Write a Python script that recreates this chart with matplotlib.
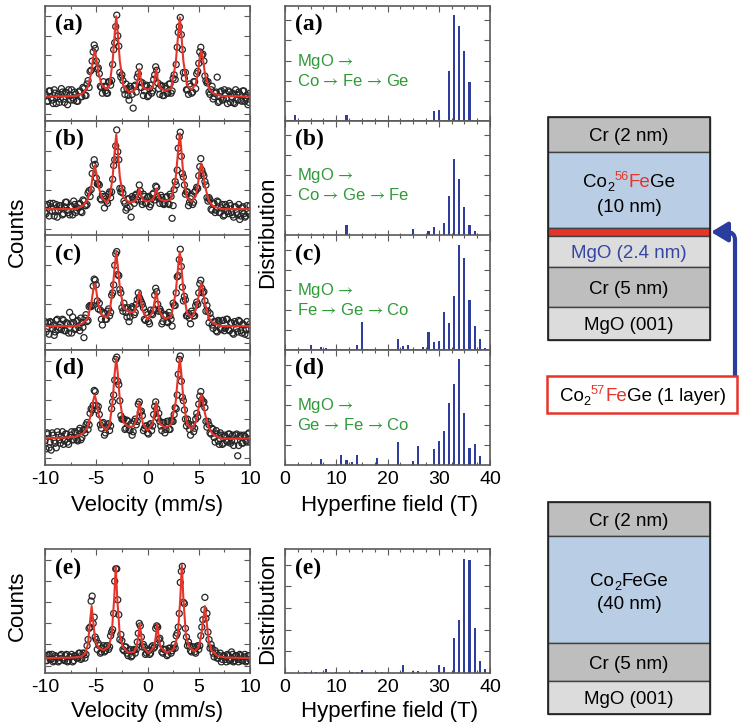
import matplotlib
matplotlib.use("Agg")
import matplotlib.pyplot as plt
from matplotlib.patches import Rectangle

plt.rcParams['font.family'] = ['Liberation Sans', 'DejaVu Sans']
plt.rcParams['axes.unicode_minus'] = False
plt.rcParams['mathtext.fontset'] = 'stix'

# ---------------- data ----------------
# two interleaved velocity channel sets
VELOCITY = [
    -10.0, -9.8, -9.6, -9.4, -9.2, -9.0, -8.8, -8.6, -8.4, -8.2,
    -8.0, -7.8, -7.6, -7.4, -7.2, -7.0, -6.8, -6.6, -6.4, -6.2,
    -6.0, -5.8, -5.6, -5.4, -5.2, -5.0, -4.8, -4.6, -4.4, -4.2,
    -4.0, -3.8, -3.6, -3.4, -3.2, -3.0, -2.8, -2.6, -2.4, -2.2,
    -2.0, -1.8, -1.6, -1.4, -1.2, -1.0, -0.8, -0.6, -0.4, -0.2,
    0.0, 0.2, 0.4, 0.6, 0.8, 1.0, 1.2, 1.4, 1.6, 1.8,
    2.0, 2.2, 2.4, 2.6, 2.8, 3.0, 3.2, 3.4, 3.6, 3.8,
    4.0, 4.2, 4.4, 4.6, 4.8, 5.0, 5.2, 5.4, 5.6, 5.8,
    6.0, 6.2, 6.4, 6.6, 6.8, 7.0, 7.2, 7.4, 7.6, 7.8,
    8.0, 8.2, 8.4, 8.6, 8.8, 9.0, 9.2, 9.4, 9.6, 9.8,
    10.0]
VELOCITY_2 = [
    -9.9, -9.7, -9.5, -9.3, -9.1, -8.9, -8.7, -8.5, -8.3, -8.1,
    -7.9, -7.7, -7.5, -7.3, -7.1, -6.9, -6.7, -6.5, -6.3, -6.1,
    -5.9, -5.7, -5.5, -5.3, -5.1, -4.9, -4.7, -4.5, -4.3, -4.1,
    -3.9, -3.7, -3.5, -3.3, -3.1, -2.9, -2.7, -2.5, -2.3, -2.1,
    -1.9, -1.7, -1.5, -1.3, -1.1, -0.9, -0.7, -0.5, -0.3, -0.1,
    0.1, 0.3, 0.5, 0.7, 0.9, 1.1, 1.3, 1.5, 1.7, 1.9,
    2.1, 2.3, 2.5, 2.7, 2.9, 3.1, 3.3, 3.5, 3.7, 3.9,
    4.1, 4.3, 4.5, 4.7, 4.9, 5.1, 5.3, 5.5, 5.7, 5.9,
    6.1, 6.3, 6.5, 6.7, 6.9, 7.1, 7.3, 7.5, 7.7, 7.9,
    8.1, 8.3, 8.5, 8.7, 8.9, 9.1, 9.3, 9.5, 9.7, 9.9]

COUNTS_A = [
    23, 17, 26, 20, 15, 24, 21, 16, 28, 19,
    25, 14, 22, 27, 18, 23, 17, 26, 21, 28,
    22, 35, 43, 52, 66, 52, 46, 30, 24, 30,
    24, 34, 31, 49, 68, 92, 65, 38, 35, 23,
    28, 18, 28, 11, 31, 38, 47, 29, 22, 30,
    21, 28, 24, 36, 47, 33, 23, 30, 22, 28,
    24, 32, 26, 40, 49, 77, 90, 62, 37, 27,
    23, 30, 25, 34, 41, 50, 64, 58, 39, 33,
    25, 27, 19, 24, 38, 17, 26, 19, 24, 15,
    25, 21, 16, 27, 18, 23, 17, 26, 20, 14, 24]
COUNTS2_A = [
    22, 17, 26, 18, 27, 15, 23, 19, 25, 16,
    24, 27, 18, 20, 25, 17, 25, 21, 29, 22,
    32, 29, 44, 60, 63, 45, 41, 29, 34, 26,
    24, 34, 35, 62, 82, 74, 42, 40, 27, 32,
    22, 30, 23, 30, 25, 41, 34, 33, 26, 31,
    22, 31, 26, 40, 44, 28, 31, 22, 30, 24,
    32, 24, 37, 36, 64, 82, 75, 42, 42, 27,
    32, 24, 34, 28, 43, 60, 57, 52, 35, 34,
    23, 30, 21, 25, 16, 25, 18, 27, 19, 26,
    16, 24, 15, 23, 25, 18, 26, 17, 22, 16]
COUNTS_B = [
    20, 27, 17, 25, 28, 21, 16, 26, 24, 19,
    29, 22, 18, 25, 30, 20, 24, 28, 20, 30,
    26, 37, 34, 54, 66, 50, 45, 32, 36, 24,
    30, 36, 33, 49, 66, 92, 66, 38, 37, 28,
    24, 32, 16, 32, 35, 31, 44, 30, 36, 28,
    33, 25, 32, 37, 43, 34, 28, 33, 27, 33,
    28, 36, 15, 40, 44, 76, 90, 54, 44, 38,
    26, 32, 27, 38, 42, 52, 67, 54, 47, 33,
    33, 23, 28, 20, 30, 20, 24, 17, 27, 21,
    28, 20, 16, 25, 18, 14, 24, 19, 17, 21, 26]
COUNTS2_B = [
    19, 26, 28, 21, 17, 27, 22, 26, 18, 25,
    29, 20, 25, 18, 27, 22, 27, 21, 31, 26,
    27, 39, 40, 61, 62, 45, 44, 31, 34, 34,
    28, 38, 38, 61, 78, 73, 41, 41, 30, 22,
    32, 25, 34, 28, 36, 34, 39, 27, 34, 28,
    34, 27, 36, 31, 42, 32, 35, 28, 28, 34,
    27, 34, 26, 47, 57, 86, 69, 51, 36, 38,
    29, 34, 29, 39, 41, 60, 57, 52, 44, 30,
    31, 22, 28, 22, 29, 20, 27, 18, 25, 19,
    26, 18, 25, 20, 27, 17, 25, 16, 26, 19]
COUNTS_C = [
    25, 19, 14, 24, 22, 16, 27, 20, 18, 26,
    17, 23, 33, 15, 24, 19, 26, 17, 24, 11,
    31, 26, 39, 39, 62, 57, 36, 35, 22, 32,
    27, 36, 33, 50, 74, 86, 65, 50, 34, 37,
    29, 25, 36, 37, 33, 44, 46, 42, 37, 26,
    31, 23, 32, 35, 54, 40, 36, 23, 30, 31,
    24, 30, 21, 39, 50, 65, 88, 55, 47, 30,
    32, 23, 32, 30, 42, 50, 61, 50, 43, 39,
    24, 28, 19, 25, 16, 25, 18, 26, 19, 27,
    17, 24, 14, 23, 16, 25, 15, 22, 18, 13, 23]
COUNTS2_C = [
    16, 24, 25, 19, 13, 26, 18, 23, 27, 17,
    24, 15, 23, 29, 18, 25, 20, 28, 20, 28,
    25, 38, 38, 56, 61, 43, 41, 27, 33, 27,
    34, 30, 48, 57, 84, 66, 53, 37, 41, 33,
    37, 29, 38, 31, 40, 50, 44, 40, 27, 33,
    25, 35, 31, 48, 51, 34, 34, 25, 31, 25,
    33, 27, 41, 39, 64, 79, 73, 43, 44, 30,
    28, 34, 30, 39, 40, 58, 54, 51, 34, 34,
    32, 22, 25, 17, 26, 19, 26, 17, 27, 18,
    24, 15, 25, 19, 26, 17, 23, 14, 25, 19]
COUNTS_D = [
    21, 28, 15, 13, 26, 19, 29, 22, 25, 18,
    27, 20, 24, 29, 22, 28, 21, 32, 24, 31,
    35, 31, 45, 48, 65, 52, 51, 35, 36, 26,
    33, 36, 34, 55, 74, 94, 70, 43, 40, 31,
    39, 31, 36, 29, 40, 38, 55, 47, 30, 34,
    28, 35, 30, 44, 55, 41, 38, 30, 37, 31,
    38, 31, 38, 44, 49, 79, 95, 59, 48, 34,
    36, 26, 34, 32, 45, 53, 64, 54, 50, 33,
    35, 27, 31, 20, 27, 18, 26, 19, 25, 20,
    27, 21, 17, 26, 8, 25, 19, 26, 21, 27, 20]
COUNTS2_D = [
    14, 27, 20, 28, 21, 15, 26, 19, 29, 21,
    27, 18, 26, 22, 29, 22, 30, 22, 30, 28,
    37, 35, 49, 52, 64, 48, 44, 32, 37, 28,
    35, 30, 49, 61, 92, 73, 56, 40, 40, 32,
    38, 30, 26, 38, 35, 53, 46, 43, 32, 34,
    27, 36, 34, 51, 49, 45, 34, 37, 28, 38,
    31, 39, 38, 50, 61, 92, 73, 56, 40, 40,
    31, 35, 29, 40, 42, 60, 57, 55, 38, 38,
    28, 32, 24, 30, 21, 28, 18, 26, 21, 27,
    19, 26, 21, 27, 17, 26, 19, 25, 20, 28]
COUNTS_E = [
    14, 10, 15, 11, 9, 14, 12, 10, 15, 11,
    14, 9, 13, 15, 10, 14, 12, 16, 12, 16,
    15, 27, 37, 62, 45, 27, 24, 16, 20, 17,
    22, 19, 30, 35, 74, 84, 47, 31, 19, 21,
    16, 18, 13, 18, 16, 25, 40, 29, 23, 15,
    18, 15, 21, 20, 36, 37, 28, 17, 19, 19,
    15, 20, 18, 23, 30, 37, 73, 86, 56, 29,
    25, 18, 21, 17, 21, 19, 30, 43, 61, 48,
    27, 23, 16, 18, 12, 14, 9, 14, 11, 15,
    10, 17, 9, 14, 11, 15, 10, 13, 9, 14, 11]
COUNTS2_E = [
    10, 14, 11, 15, 10, 13, 9, 14, 12, 10,
    15, 10, 13, 9, 14, 12, 16, 11, 16, 12,
    22, 36, 58, 40, 29, 19, 22, 17, 22, 18,
    22, 21, 33, 48, 84, 59, 27, 26, 18, 21,
    14, 19, 14, 19, 19, 32, 38, 21, 21, 16,
    18, 16, 22, 21, 38, 27, 24, 16, 19, 14,
    20, 16, 20, 20, 32, 48, 82, 57, 36, 22,
    22, 17, 21, 16, 22, 22, 37, 51, 44, 33,
    20, 20, 13, 16, 12, 16, 11, 14, 9, 14,
    10, 15, 10, 14, 9, 14, 10, 15, 10, 14]

# fitted curves (velocity knots shared by a-d)
FIT_V = [-10, -7.0, -6.3, -5.85, -5.5, -5.3, -5.15, -5.0, -4.8, -4.45,
         -4.0, -3.7, -3.4, -3.2, -3.05, -2.9, -2.7, -2.35, -1.8, -1.35,
         -1.1, -0.95, -0.8, -0.65, -0.45, 0.0, 0.5, 0.7, 0.85, 1.0,
         1.2, 1.7, 2.3, 2.75, 3.0, 3.15, 3.3, 3.5, 3.85, 4.3,
         4.7, 4.9, 5.1, 5.25, 5.4, 5.6, 6.0, 6.4, 7.2, 10]
FIT_A = [21, 21.5, 24, 29, 41, 55, 61, 55, 42, 31,
         27.5, 31, 52, 76, 91, 76, 52, 30.5, 25, 25.5,
         29, 36, 45, 36, 29, 27, 29, 36, 45, 36,
         29, 26, 28, 50, 76, 90, 76, 52, 31, 27,
         32, 41, 55, 61, 55, 41, 28, 24, 21.5, 21]
FIT_B = [23, 23, 26, 31, 42, 55, 61, 55, 43, 33,
         29, 32.5, 51, 74, 88, 74, 51, 33, 29, 29.5,
         31.5, 35.5, 41, 35.5, 31, 29.5, 31, 35, 41, 36,
         31.5, 30, 31.5, 50, 75, 89, 75, 52, 33, 29.5,
         34, 43, 57, 63, 57, 43, 30, 25.5, 23, 23]
FIT_C = [21, 21, 23.5, 28, 40, 52, 58, 52, 40, 30.5,
         28.5, 33, 53, 73, 85, 73, 55, 37, 33.5, 33,
         38, 44, 51, 44, 34, 27, 33, 43, 51, 43,
         33, 27.5, 29, 50, 74, 86, 74, 52, 32.5, 28.5,
         35, 43, 53, 58, 53, 41, 28, 23.5, 21, 21]
FIT_D = [23, 24.5, 27.5, 33, 45, 56, 61, 56, 45, 34,
         30.5, 35, 56, 80, 93, 80, 57, 37, 33, 34,
         39, 46, 54, 46, 36, 30, 36, 46, 55, 46,
         36, 32.5, 35, 55, 80, 93, 80, 57, 36, 31,
         37, 45, 56, 61, 56, 45, 32, 26.5, 23, 23]
FIT_V_E = [-10, -7.0, -6.4, -6.05, -5.8, -5.6, -5.45, -5.3, -5.1, -4.8,
           -4.3, -3.8, -3.5, -3.25, -3.1, -2.95, -2.7, -2.4, -1.9, -1.3,
           -1.05, -0.9, -0.75, -0.6, -0.45, 0.1, 0.65, 0.8, 0.95, 1.1,
           1.25, 1.8, 2.5, 2.95, 3.2, 3.35, 3.5, 3.75, 4.1, 4.6,
           5.0, 5.25, 5.45, 5.6, 5.75, 5.95, 6.25, 6.8, 7.5, 10]
FIT_E = [12, 12.5, 13.5, 16, 24, 42, 54, 42, 26, 20.5,
         18.5, 21, 30, 60, 86, 60, 30, 21, 16.5, 17,
         22, 29, 39, 29, 21, 16, 21, 29, 39, 29,
         21, 16.5, 18.5, 30, 60, 87, 60, 30, 20.5, 17.5,
         21, 31, 43, 54, 43, 27, 18, 14, 12.5, 12]

# hyperfine field distributions
FIELD_A = [2, 12, 29, 30, 32, 33, 34, 35, 36]
DIST_A = [0.05, 0.05, 0.085, 0.09, 0.43, 0.92, 0.83, 0.61, 0.34]
FIELD_B = [12, 25, 28, 29, 31, 32, 33, 34, 35, 36, 37]
DIST_B = [0.088, 0.053, 0.035, 0.074, 0.11, 0.34, 0.67, 0.49, 0.25, 0.094, 0.04]
FIELD_C = [5, 7, 8, 14, 15, 22, 23, 24, 27, 28, 29, 30, 31, 32, 33, 34, 35, 36, 37, 38, 39]
DIST_C = [0.05, 0.03, 0.02, 0.05, 0.25, 0.10, 0.04, 0.045, 0.03, 0.16, 0.07,
          0.08, 0.33, 0.24, 0.47, 0.92, 0.80, 0.44, 0.21, 0.10, 0.02]
FIELD_D = [7, 11, 12, 13, 14, 18, 22, 25, 26, 29, 30, 31, 32, 33, 34, 35, 36, 37, 38]
DIST_D = [0.05, 0.084, 0.046, 0.03, 0.084, 0.058, 0.20, 0.035, 0.165, 0.14,
          0.21, 0.30, 0.54, 0.71, 0.92, 0.45, 0.145, 0.18, 0.078]
FIELD_E = [4, 5, 6, 8, 10, 13, 14, 15, 18, 19, 23, 25, 26, 30, 31, 33, 34, 35, 36, 37, 38, 39]
DIST_E = [0.008, 0.01, 0.008, 0.03, 0.01, 0.008, 0.01, 0.025, 0.008, 0.008, 0.067,
          0.015, 0.015, 0.062, 0.046, 0.28, 0.43, 0.92, 0.91, 0.36, 0.10, 0.03]

PANEL_LABELS = ['(a)', '(b)', '(c)', '(d)', '(e)']
ARROW = r'$\,\rightarrow\,$'
SEQUENCES = ['Co' + ARROW + 'Fe' + ARROW + 'Ge',
             'Co' + ARROW + 'Ge' + ARROW + 'Fe',
             'Fe' + ARROW + 'Ge' + ARROW + 'Co',
             'Ge' + ARROW + 'Fe' + ARROW + 'Co']

# ---------------- styles ----------------
W, H = 739, 727
FRAME = '#5a5a5a'
RED = '#e5352a'
BAR = '#2f3d9c'
GREEN = '#2f9a38'
BLUE_TXT = '#3545a5'
CR_GRAY = '#bebebe'
MGO_GRAY = '#dcdcdc'
FILM_BLUE = '#b9cde4'

fig = plt.figure(figsize=(W / 100, H / 100), dpi=100)


def frame(left, top, width, height):
    return [left / W, 1 - (top + height) / H, width / W, height / H]


def style(ax, xlim, major, minor, yticks, labels):
    ax.set_xlim(xlim)
    ax.set_xticks(major)
    ax.set_xticks(minor, minor=True)
    ax.set_yticks(yticks)
    ax.set_yticklabels([])
    ax.tick_params(which='both', direction='in', top=True, right=True,
                   color=FRAME, width=0.8, labelbottom=labels,
                   labelsize=14, pad=4)
    ax.tick_params(which='major', length=4)
    ax.tick_params(which='minor', length=2.5)
    for sp in ax.spines.values():
        sp.set_color(FRAME)
        sp.set_linewidth(1.2)


def spectrum(top, height, counts, counts2, fit_v, fit_y, label, labels):
    ax = fig.add_axes(frame(45, top, 205, height))
    for vel, cnt in ((VELOCITY, counts), (VELOCITY_2, counts2)):
        ax.scatter(vel, cnt, s=19, facecolors='none', edgecolors='#262626',
                   linewidths=0.9, zorder=2)
    ax.plot(fit_v, fit_y, color=RED, lw=1.5, zorder=3)
    ax.set_ylim(0, 100)
    style(ax, (-10, 10), [-10, -5, 0, 5, 10], [-7.5, -2.5, 2.5, 7.5],
          [6, 23, 40, 57, 74, 91], labels)
    ax.text(0.05, 0.93, label, transform=ax.transAxes, ha='left', va='top',
            fontsize=17, fontweight='bold', family='Liberation Serif', zorder=4)
    return ax


def distribution(top, height, field, dist, label, seq, labels):
    ax = fig.add_axes(frame(285, top, 205, height))
    ax.bar(field, dist, width=0.42, color=BAR, zorder=2)
    ax.set_ylim(0, 1)
    style(ax, (0, 40), [0, 10, 20, 30, 40],
          [2.5, 5, 7.5, 12.5, 15, 17.5, 22.5, 25, 27.5, 32.5, 35, 37.5],
          [0.175, 0.35, 0.525, 0.7, 0.875], labels)
    ax.text(0.05, 0.93, label, transform=ax.transAxes, ha='left', va='top',
            fontsize=17, fontweight='bold', family='Liberation Serif')
    if seq:
        ax.text(0.06, 0.52, 'MgO' + ARROW, transform=ax.transAxes, color=GREEN,
                fontsize=12, ha='left', va='center')
        ax.text(0.06, 0.35, seq, transform=ax.transAxes, color=GREEN,
                fontsize=12, ha='left', va='center')
    return ax


counts = [COUNTS_A, COUNTS_B, COUNTS_C, COUNTS_D]
counts2 = [COUNTS2_A, COUNTS2_B, COUNTS2_C, COUNTS2_D]
fits = [FIT_A, FIT_B, FIT_C, FIT_D]
fields = [FIELD_A, FIELD_B, FIELD_C, FIELD_D]
dists = [DIST_A, DIST_B, DIST_C, DIST_D]
ph = 114.75
for i in range(4):
    top = 6 + i * ph
    spectrum(top, ph, counts[i], counts2[i], FIT_V, fits[i], PANEL_LABELS[i], i == 3)
    distribution(top, ph, fields[i], dists[i], PANEL_LABELS[i], SEQUENCES[i], i == 3)

spectrum(549, 124, COUNTS_E, COUNTS2_E, FIT_V_E, FIT_E, PANEL_LABELS[4], True)
distribution(549, 124, FIELD_E, DIST_E, PANEL_LABELS[4], None, True)


def ftext(x, y, s, **kw):
    fig.text(x / W, 1 - y / H, s, ha='center', va='center', **kw)


ftext(17, 232, 'Counts', rotation=90, fontsize=16)
ftext(268, 232, 'Distribution', rotation=90, fontsize=16)
ftext(147, 505, 'Velocity (mm/s)', fontsize=16)
ftext(390, 505, 'Hyperfine field (T)', fontsize=16)
ftext(17, 606, 'Counts', rotation=90, fontsize=16)
ftext(268, 608, 'Distribution', rotation=90, fontsize=16)
ftext(147, 711, 'Velocity (mm/s)', fontsize=16)
ftext(390, 711, 'Hyperfine field (T)', fontsize=16)

# ---------------- layer diagrams ----------------
dax = fig.add_axes([0, 0, 1, 1])
dax.set_xlim(0, W)
dax.set_ylim(H, 0)
dax.axis('off')
renderer = fig.canvas.get_renderer()
LAYER_FS = 13.5


def rich_text(xc, yc, pieces, fs=LAYER_FS):
    px = fs * 100 / 72
    base = yc + 0.36 * px
    inv = dax.transData.inverted()
    x = 0.0
    items = []
    for s, color, kind in pieces:
        size, shift = fs, 0.0
        if kind == 'sub':
            size, shift = fs * 0.68, 0.2 * px
        elif kind == 'sup':
            size, shift = fs * 0.68, -0.36 * px
        t = dax.text(x, base + shift, s, color=color, fontsize=size,
                     ha='left', va='baseline')
        bb = t.get_window_extent(renderer)
        x = inv.transform((bb.x1, bb.y0))[0]
        items.append(t)
    offset = xc - x / 2
    for t in items:
        px0, py0 = t.get_position()
        t.set_position((px0 + offset, py0))


def stack(x0, y0, width, layers, gap, drop):
    y = y0
    for height, color, lines in layers:
        dax.add_patch(Rectangle((x0, y), width, height, facecolor=color,
                                edgecolor='#404040', lw=1.0))
        n = len(lines)
        for k, pieces in enumerate(lines):
            yc = y + height / 2 + (k - (n - 1) / 2) * gap + (drop if n > 1 else 0)
            rich_text(x0 + width / 2, yc, pieces)
        y += height
    dax.add_patch(Rectangle((x0, y0), width, y - y0, facecolor='none',
                            edgecolor='#202020', lw=1.2))


K = 'black'
top_layers = [
    (35, CR_GRAY, [[('Cr (2 nm)', K, 'n')]]),
    (76, FILM_BLUE, [[('Co', K, 'n'), ('2', K, 'sub'), ('56', RED, 'sup'),
                      ('Fe', RED, 'n'), ('Ge', K, 'n')],
                     [('(10 nm)', K, 'n')]]),
    (8, RED, []),
    (31, MGO_GRAY, [[('MgO (2.4 nm)', BLUE_TXT, 'n')]]),
    (40, CR_GRAY, [[('Cr (5 nm)', K, 'n')]]),
    (33, MGO_GRAY, [[('MgO (001)', K, 'n')]]),
]
stack(548, 117, 162, top_layers, 25, 3)

bottom_layers = [
    (34, CR_GRAY, [[('Cr (2 nm)', K, 'n')]]),
    (107, FILM_BLUE, [[('Co', K, 'n'), ('2', K, 'sub'), ('FeGe', K, 'n')],
                      [('(40 nm)', K, 'n')]]),
    (38, CR_GRAY, [[('Cr (5 nm)', K, 'n')]]),
    (33, MGO_GRAY, [[('MgO (001)', K, 'n')]]),
]
stack(548, 502, 162, bottom_layers, 23, 1)

# single-layer label with arrow
dax.annotate('', xy=(711, 232), xytext=(735, 376),
             arrowprops=dict(arrowstyle='-|>,head_length=0.5,head_width=0.3',
                             mutation_scale=20, color='#2b3d9c', lw=3,
                             connectionstyle='angle,angleA=90,angleB=0,rad=8',
                             shrinkA=0, shrinkB=0))
dax.add_patch(Rectangle((547, 376), 190, 37, facecolor='white',
                        edgecolor=RED, lw=1.8, zorder=3))
rich_text(643, 394.5, [('Co', K, 'n'), ('2', K, 'sub'), ('57', RED, 'sup'),
                       ('Fe', RED, 'n'), ('Ge (1 layer)', K, 'n')])

fig.savefig('out.png', dpi=100)
